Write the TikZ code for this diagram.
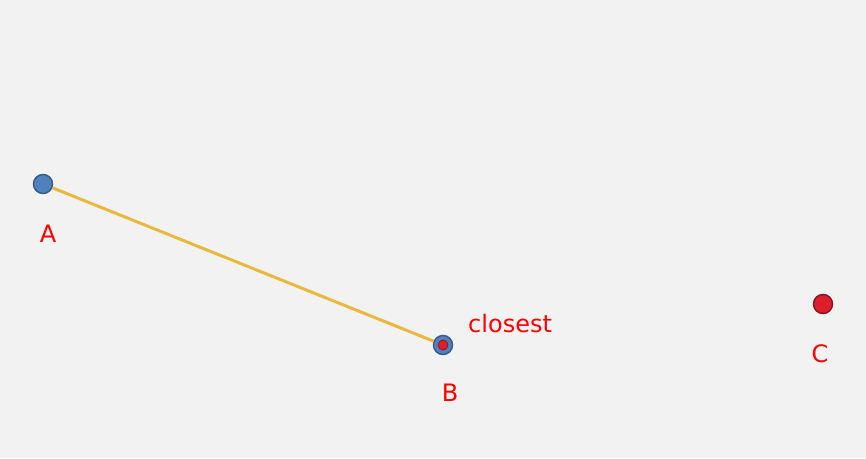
\documentclass[tikz,border=0pt]{standalone}
\usepackage{fontspec}
\setmainfont{DejaVu Sans}
\usepackage{tikz}
\usetikzlibrary{positioning}

\definecolor{bgray}{RGB}{242,242,242}
\definecolor{ptblue}{RGB}{79,129,189}
\definecolor{ptblueedge}{RGB}{56,93,138}
\definecolor{ptred}{RGB}{222,30,45}
\definecolor{ptrededge}{RGB}{140,20,30}
\definecolor{seggold}{RGB}{232,185,62}
\definecolor{lblred}{RGB}{255,0,0}

\tikzset{
  bluept/.style={circle,fill=ptblue,draw=ptblueedge,line width=1.5pt,minimum size=19pt,inner sep=0pt},
  redpt/.style={circle,fill=ptred,draw=ptrededge,line width=1.5pt,minimum size=19pt,inner sep=0pt},
  innerpt/.style={circle,fill=ptred,draw=ptrededge,line width=0.8pt,minimum size=10pt,inner sep=0pt},
  lbl/.style={text=lblred,inner sep=0pt,anchor=base,font=\fontsize{24}{28}\selectfont},
  segment/.style={seggold,line width=3pt}
}

\begin{document}
\begin{tikzpicture}[x=1pt,y=-1pt]

\useasboundingbox (0,0) rectangle (866,458);
\fill[bgray] (0,0) rectangle (866,458);

%points
\node[bluept] (A) at (43,184) {};
\node[bluept] (B) at (443,345) {};
\node[innerpt] (Bin) at (443,345) {};
\node[redpt] (C) at (823,304) {};

%segment
\draw[segment] (A) -- (B);

%labels
\node[lbl] (labA) at (48,242) {A};
\node[lbl] (labB) at (450,401) {B};
\node[lbl] (labC) at (820,362) {C};
\node[lbl,anchor=base west] (labclosest) at (468,332) {closest};

\end{tikzpicture}
\end{document}
